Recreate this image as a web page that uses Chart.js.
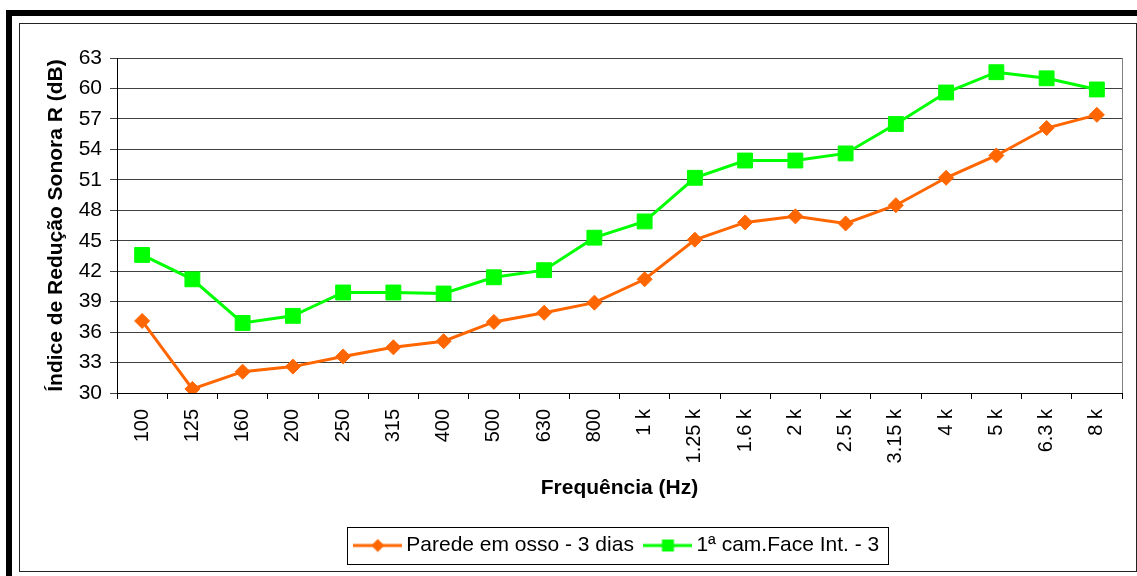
<!DOCTYPE html>
<html>
<head>
<meta charset="utf-8">
<script src="https://cdn.jsdelivr.net/npm/chart.js@4.4.4/dist/chart.umd.min.js"></script>
<style>
  html, body { margin: 0; padding: 0; background: #fff; overflow: hidden; }
  #frame-outer { position: absolute; left: 6px; top: 10px; right: 0; bottom: 0; border-top: 6px solid #000; border-left: 6px solid #000; }
  #frame-inner { position: absolute; left: 19px; top: 23px; width: 1118px; height: 549px; box-sizing: border-box; border: 1px solid #222; }
  #chart { position: absolute; left: 0; top: 0; }
</style>
</head>
<body>
<div id="frame-outer"></div>
<div id="frame-inner"></div>
<canvas id="chart" width="1137" height="576"></canvas>
<script>
// bandas de terço de oitava
const frequencias = ['100', '125', '160', '200', '250', '315', '400', '500', '630', '800',
    '1 k', '1.25 k', '1.6 k', '2 k', '2.5 k', '3.15 k', '4 k', '5 k', '6.3 k', '8 k'];

const paredeOsso = [37.1, 30.4, 32.1, 32.6, 33.6, 34.5, 35.1, 37.0, 37.9, 38.9,
    41.2, 45.1, 46.8, 47.4, 46.7, 48.5, 51.2, 53.4, 56.1, 57.4];

const primeiraCamada = [43.6, 41.2, 36.9, 37.6, 39.9, 39.9, 39.8, 41.4, 42.1, 45.3,
    46.9, 51.2, 52.9, 52.9, 53.6, 56.5, 59.6, 61.6, 61.0, 59.9];

const nomesSeries = ['Parede em osso - 3 dias', '1ª cam.Face Int. - 3'];

const yMin = 30;
const yMax = 63;
const yStep = 3;

const LARANJA = '#FF6600';
const VERDE = '#00FF00';
const FONTE = "'Liberation Sans', Arial, sans-serif";

Chart.defaults.font.family = FONTE;
Chart.defaults.color = '#000';

// simbolo da legenda: traço com o marcador no meio
function simboloLegenda(cor, forma) {
    const c = document.createElement('canvas');
    c.width = 49;
    c.height = 16;
    const g = c.getContext('2d');
    g.strokeStyle = cor;
    g.lineWidth = 3;
    g.beginPath();
    g.moveTo(0, 8);
    g.lineTo(49, 8);
    g.stroke();
    g.fillStyle = cor;
    g.beginPath();
    if (forma === 'losango') {
        g.moveTo(24.5, 1.5);
        g.lineTo(31, 8);
        g.lineTo(24.5, 14.5);
        g.lineTo(18, 8);
        g.closePath();
    } else {
        g.rect(18.5, 2, 12, 12);
    }
    g.fill();
    return c;
}

const simbolos = [simboloLegenda(LARANJA, 'losango'), simboloLegenda(VERDE, 'quadrado')];

const molduras = {
    id: 'molduras',
    beforeDatasetsDraw(chart) {
        const { ctx, chartArea: a } = chart;
        const x = Math.round(a.right) + 0.5;
        ctx.save();
        ctx.strokeStyle = '#808080';
        ctx.lineWidth = 1;
        ctx.beginPath();
        ctx.moveTo(x, a.top);
        ctx.lineTo(x, a.bottom);
        ctx.stroke();
        ctx.restore();
    },
    afterDraw(chart) {
        const boxes = chart.legend.legendHitBoxes;
        if (!boxes || !boxes.length) return;
        const first = boxes[0];
        const last = boxes[boxes.length - 1];
        const cy = first.top + first.height / 2;
        const left = Math.round(first.left - 12.5);
        const right = Math.round(last.left + last.width + 9);
        const top = Math.round(cy - 18.5);
        const bottom = Math.round(cy + 18.5);
        const ctx = chart.ctx;
        ctx.save();
        ctx.strokeStyle = '#000';
        ctx.lineWidth = 1;
        ctx.strokeRect(left + 0.5, top + 0.5, right - left, bottom - top);
        ctx.restore();
    }
};

new Chart(document.getElementById('chart'), {
    type: 'line',
    data: {
        labels: frequencias,
        datasets: [{
            label: nomesSeries[0],
            data: paredeOsso,
            borderColor: LARANJA,
            backgroundColor: LARANJA,
            borderWidth: 3,
            pointStyle: 'rectRot',
            pointRadius: 7.5,
            pointBorderWidth: 1,
            pointBorderColor: LARANJA,
            pointBackgroundColor: LARANJA,
            tension: 0
        }, {
            label: nomesSeries[1],
            data: primeiraCamada,
            borderColor: VERDE,
            backgroundColor: VERDE,
            borderWidth: 3,
            pointStyle: 'rect',
            pointRadius: 10.5,
            pointBorderWidth: 1,
            pointBorderColor: VERDE,
            pointBackgroundColor: VERDE,
            tension: 0
        }]
    },
    options: {
        responsive: false,
        animation: false,
        devicePixelRatio: 1,
        layout: { padding: { left: 0, top: 58, right: 15, bottom: 10 } },
        plugins: {
            tooltip: { enabled: false },
            legend: {
                position: 'bottom',
                fullSize: false,
                labels: {
                    usePointStyle: true,
                    pointStyleWidth: 36,
                    padding: 16,
                    color: '#000',
                    font: { size: 21 },
                    generateLabels: (chart) => chart.data.datasets.map((ds, i) => ({
                        text: ds.label,
                        fillStyle: ds.borderColor,
                        strokeStyle: ds.borderColor,
                        lineWidth: 0,
                        pointStyle: simbolos[i],
                        hidden: false,
                        datasetIndex: i
                    }))
                }
            }
        },
        scales: {
            x: {
                offset: true,
                afterFit: (scale) => { scale.height = 126; },
                grid: {
                    offset: true,
                    drawOnChartArea: false,
                    drawTicks: true,
                    tickLength: 6,
                    color: '#000'
                },
                border: { color: '#000', width: 1 },
                ticks: {
                    minRotation: 90,
                    maxRotation: 90,
                    autoSkip: false,
                    padding: 10,
                    font: { size: 20 }
                },
                title: {
                    display: true,
                    text: 'Frequência (Hz)',
                    font: { size: 21, weight: 'bold' },
                    padding: { top: 0, bottom: 18 }
                }
            },
            y: {
                min: yMin,
                max: yMax,
                afterFit: (scale) => { scale.width = 117; },
                grid: {
                    color: '#404040',
                    tickLength: 7
                },
                border: { color: '#000', width: 1 },
                ticks: {
                    stepSize: yStep,
                    padding: 8,
                    font: { size: 21 }
                },
                title: {
                    display: true,
                    text: 'Índice de Redução Sonora R (dB)',
                    font: { size: 21, weight: 'bold' },
                    padding: { top: 44, bottom: 0 }
                }
            }
        }
    },
    plugins: [molduras]
});
</script>
</body>
</html>
